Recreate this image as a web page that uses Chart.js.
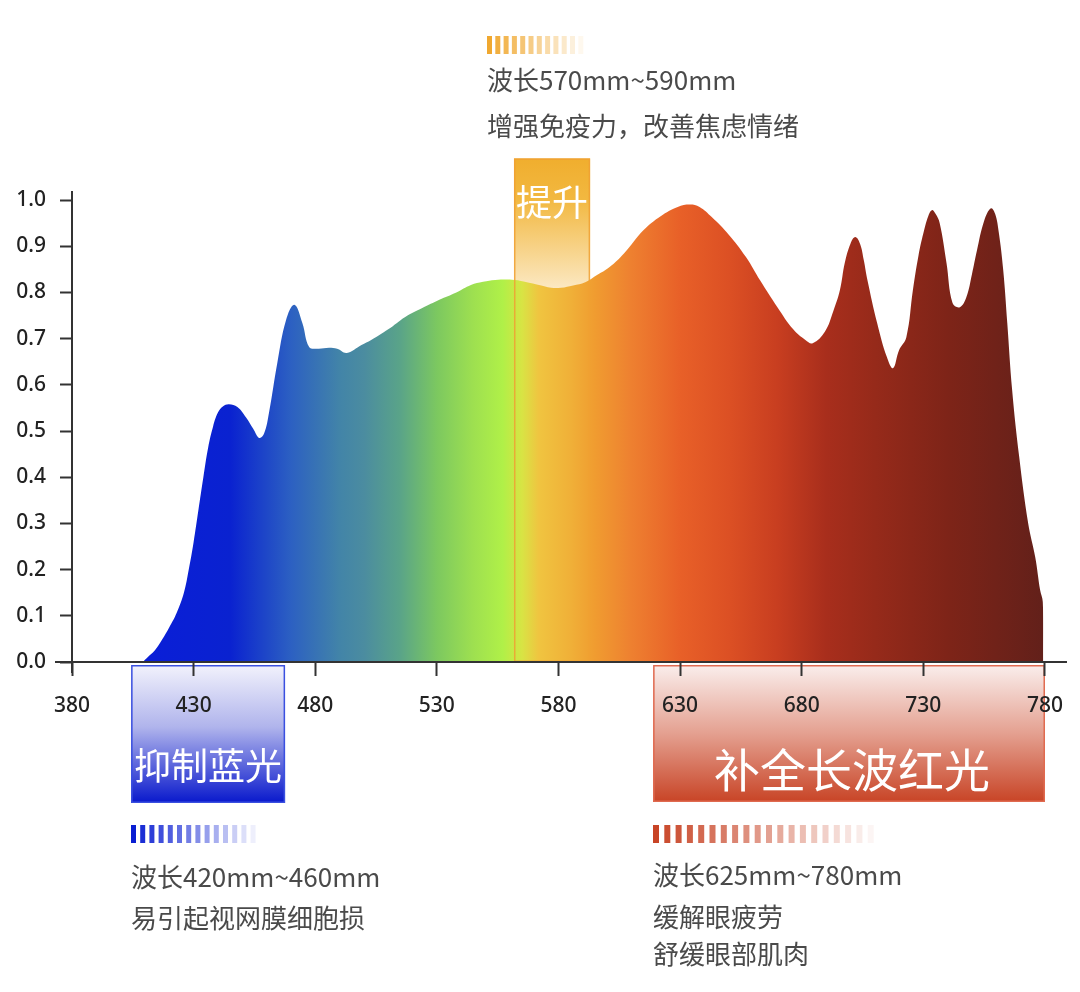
<!DOCTYPE html>
<html lang="zh-CN">
<head>
    <meta charset="UTF-8">
    <title>光谱分布</title>
    <script src="https://cdn.jsdelivr.net/npm/chart.js@4.4.0/dist/chart.umd.min.js"></script>
    <style>
        body { margin: 0; background: #fff; }
        #canvas_espectro { display: block; }
    </style>
</head>
<body>
    <canvas id="canvas_espectro" width="1080" height="992"></canvas>

<script>
    // wavelength (nm) / relative intensity
    const wavelengths = [409, 411, 414, 417, 420, 423, 426, 428, 430, 432,
        434, 436, 438, 440, 442, 444.5, 448, 451.5, 454.5, 457,
        459, 461, 464.4, 468, 471.4, 474.7, 477.5, 481, 485.7, 489,
        493, 499, 503, 510, 517, 524, 531, 538, 544, 549,
        554, 562, 567, 572, 577, 581, 586, 591, 596, 601,
        607, 615, 622, 629, 634, 638, 643, 650, 657, 663,
        670, 676.5, 681.5, 684.5, 689.5, 693, 695.7, 697.7, 700, 702,
        704, 705.5, 707, 711, 715, 717.5, 720, 723, 725.7, 728,
        730, 732, 733.5, 735, 736.7, 739.5, 742, 745, 747.7, 750,
        752, 755, 757.8, 759.5, 761, 762.8, 764.5, 766.5, 769.4, 773.1,
        776, 778, 779.1, 779.3];
    const intensity = [0, 0.01, 0.025, 0.048, 0.075, 0.106, 0.15, 0.2, 0.26, 0.33,
        0.4, 0.465, 0.51, 0.54, 0.553, 0.558, 0.552, 0.53, 0.505, 0.485,
        0.495, 0.54, 0.647, 0.74, 0.773, 0.734, 0.682, 0.678, 0.68, 0.678,
        0.669, 0.686, 0.697, 0.72, 0.747, 0.766, 0.784, 0.80, 0.816, 0.823,
        0.827, 0.827, 0.822, 0.816, 0.81, 0.81, 0.815, 0.822, 0.838, 0.855,
        0.885, 0.935, 0.965, 0.985, 0.99, 0.985, 0.963, 0.925, 0.877, 0.825,
        0.768, 0.72, 0.697, 0.69, 0.715, 0.76, 0.805, 0.864, 0.905, 0.92,
        0.905, 0.87, 0.827, 0.734, 0.66, 0.636, 0.675, 0.703, 0.805, 0.88,
        0.928, 0.965, 0.978, 0.97, 0.95, 0.864, 0.777, 0.768, 0.79, 0.84,
        0.89, 0.955, 0.982, 0.97, 0.93, 0.85, 0.734, 0.589, 0.444, 0.3,
        0.227, 0.156, 0.13, 0];
    const xTicks = [380, 430, 480, 530, 580, 630, 680, 730, 780];
    const yTicks = [0, 0.1, 0.2, 0.3, 0.4, 0.5, 0.6, 0.7, 0.8, 0.9, 1.0];

    // spectrum colours along the x axis
    const stopNm = [410, 445, 470, 490, 500, 515, 530, 545, 557, 565, 572, 585, 595, 610, 630, 650, 670, 690, 710, 740, 780];
    const stopColor = ['#0a1ed8', '#0a22d0', '#2c60c2', '#4284a8', '#4b8ca0', '#5aa488', '#7cc860', '#9ee050', '#b0f048',
        '#d8e444', '#f0c440', '#f0b038', '#f09c30', '#ee8030', '#e86028', '#dc5024', '#c83e20', '#a82e1c', '#962a1a',
        '#7e2418', '#62201a'];

    const pontos = [];
    for (let i = 0; i < wavelengths.length; i++) {
        pontos.push({ x: wavelengths[i], y: intensity[i] });
    }

    function gradienteEspectro(context) {
        const chart = context.chart;
        const { ctx, chartArea, scales } = chart;
        if (!chartArea) return 'rgba(0,0,0,0)';
        const x0 = scales.x.getPixelForValue(380);
        const x1 = scales.x.getPixelForValue(780);
        const g = ctx.createLinearGradient(x0, 0, x1, 0);
        for (let i = 0; i < stopNm.length; i++) {
            g.addColorStop((stopNm[i] - 380) / 400, stopColor[i]);
        }
        return g;
    }

    function listras(ctx, x, y, n, passo, largura, altura, rgb) {
        for (let i = 0; i < n; i++) {
            const a = 1 - i / n;
            ctx.fillStyle = `rgba(${rgb},${a.toFixed(3)})`;
            ctx.fillRect(x + i * passo, y, largura, altura);
        }
    }

    function caixa(ctx, l, t, r, b, cores, borda) {
        const g = ctx.createLinearGradient(0, t, 0, b);
        cores.forEach(c => g.addColorStop(c[0], c[1]));
        ctx.fillStyle = g;
        ctx.fillRect(l, t, r - l, b - t);
        if (borda) {
            ctx.strokeStyle = borda;
            ctx.lineWidth = 1.5;
            ctx.strokeRect(l + 0.75, t + 0.75, r - l - 1.5, b - t - 1.5);
        }
    }

    const anotacoes = {
        id: 'anotacoes',
        beforeDraw(chart) {
            const { ctx, scales: { x, y } } = chart;
            const base = y.getPixelForValue(0);
            ctx.save();
            // blue band
            caixa(ctx, x.getPixelForValue(404.3), base + 3, x.getPixelForValue(467.6), base + 141,
                [[0, '#f2f2fc'], [0.45, '#b0b4ec'], [1, '#0818cc']], '#3a50e0');
            // red band
            caixa(ctx, x.getPixelForValue(618.9), base + 3, x.getPixelForValue(780), base + 140,
                [[0, '#faeeec'], [0.5, '#e4a090'], [1, '#c84426']], '#e06a50');
            // yellow band (behind curve)
            caixa(ctx, x.getPixelForValue(561.7), y.getPixelForValue(1.09), x.getPixelForValue(593), base,
                [[0, '#f0ae2e'], [0.08, '#f2b840'], [0.25, '#fbe6bc'], [0.3, '#fdf4e4'], [1, '#fdf4e4']], null);
            ctx.restore();
        },
        afterDatasetsDraw(chart) {
            const { ctx, scales: { x, y } } = chart;
            const base = y.getPixelForValue(0);
            const l = x.getPixelForValue(561.7), r = x.getPixelForValue(593), t = y.getPixelForValue(1.09);
            ctx.save();
            ctx.strokeStyle = 'rgba(240,160,50,0.85)';
            ctx.lineWidth = 1.5;
            ctx.strokeRect(l + 0.75, t + 0.75, r - l - 1.5, base - t - 1.5);
            ctx.restore();
        },
        afterDraw(chart) {
            const { ctx, scales: { x, y } } = chart;
            const base = y.getPixelForValue(0);
            const eixo = x.getPixelForValue(380);
            ctx.save();
            // axis lines, crossing at the origin
            ctx.strokeStyle = '#333';
            ctx.lineWidth = 2;
            ctx.beginPath();
            ctx.moveTo(eixo - 17, base);
            ctx.lineTo(x.getPixelForValue(780) + 22, base);
            ctx.moveTo(eixo, y.getPixelForValue(1) - 9);
            ctx.lineTo(eixo, base + 11);
            ctx.stroke();

            // band labels
            ctx.fillStyle = '#fff';
            ctx.textAlign = 'center';
            ctx.textBaseline = 'middle';
            ctx.font = '36px "Noto Sans CJK SC"';
            ctx.fillText('提升', (x.getPixelForValue(561.7) + x.getPixelForValue(593)) / 2, 202);
            ctx.font = '37px "Noto Sans CJK SC"';
            ctx.fillText('抑制蓝光', (x.getPixelForValue(404.3) + x.getPixelForValue(467.6)) / 2, 766);
            ctx.font = '46px "Noto Sans CJK SC"';
            ctx.fillText('补全长波红光', 852, 770);

            // legends
            listras(ctx, 487, 36, 12, 8.3, 5, 18, '240,168,48');
            listras(ctx, 131, 825, 14, 9.2, 5, 18, '10,30,210');
            listras(ctx, 653, 825, 20, 11.3, 6, 18, '200,68,38');

            ctx.fillStyle = '#4a4a4a';
            ctx.textAlign = 'left';
            ctx.font = '26px "Noto Sans CJK SC"';
            ctx.fillText('波长570mm~590mm', 487, 80);
            ctx.fillText('增强免疫力，改善焦虑情绪', 487, 126);
            ctx.fillText('波长420mm~460mm', 131, 877);
            ctx.fillText('易引起视网膜细胞损', 131, 918);
            ctx.fillText('波长625mm~780mm', 653, 875);
            ctx.fillText('缓解眼疲劳', 653, 917);
            ctx.fillText('舒缓眼部肌肉', 653, 954);
            ctx.restore();
        }
    };

    const fonteEixo = { family: '"Noto Sans"', size: 21, weight: 500 };

    new Chart(document.getElementById('canvas_espectro'), {
        type: 'line',
        data: {
            datasets: [{
                label: '光谱',
                data: pontos,
                fill: 'origin',
                backgroundColor: gradienteEspectro,
                borderWidth: 0,
                pointRadius: 0,
                tension: 0.4
            }]
        },
        options: {
            responsive: false,
            animation: false,
            layout: { padding: { left: 0, top: 200, right: 30, bottom: 270 } },
            plugins: {
                legend: { display: false },
                tooltip: { enabled: false }
            },
            scales: {
                x: {
                    type: 'linear',
                    min: 380,
                    max: 780,
                    afterBuildTicks: scale => { scale.ticks = xTicks.map(v => ({ value: v })); },
                    afterFit: scale => { scale.height = 60; },
                    grid: { drawOnChartArea: false, drawTicks: true, tickLength: 14, tickColor: '#333', tickWidth: 2 },
                    border: { display: false },
                    ticks: { color: '#222', font: fonteEixo, padding: 17, maxRotation: 0 }
                },
                y: {
                    min: 0,
                    max: 1,
                    afterBuildTicks: scale => { scale.ticks = yTicks.map(v => ({ value: v })); },
                    afterFit: scale => { scale.width = 72; },
                    grid: { drawOnChartArea: false, drawTicks: true, tickLength: 12, tickColor: '#333', tickWidth: 2 },
                    border: { display: false },
                    ticks: { color: '#222', font: fonteEixo, padding: 14, callback: v => v.toFixed(1) }
                }
            }
        },
        plugins: [anotacoes]
    });
</script>
</body>
</html>
